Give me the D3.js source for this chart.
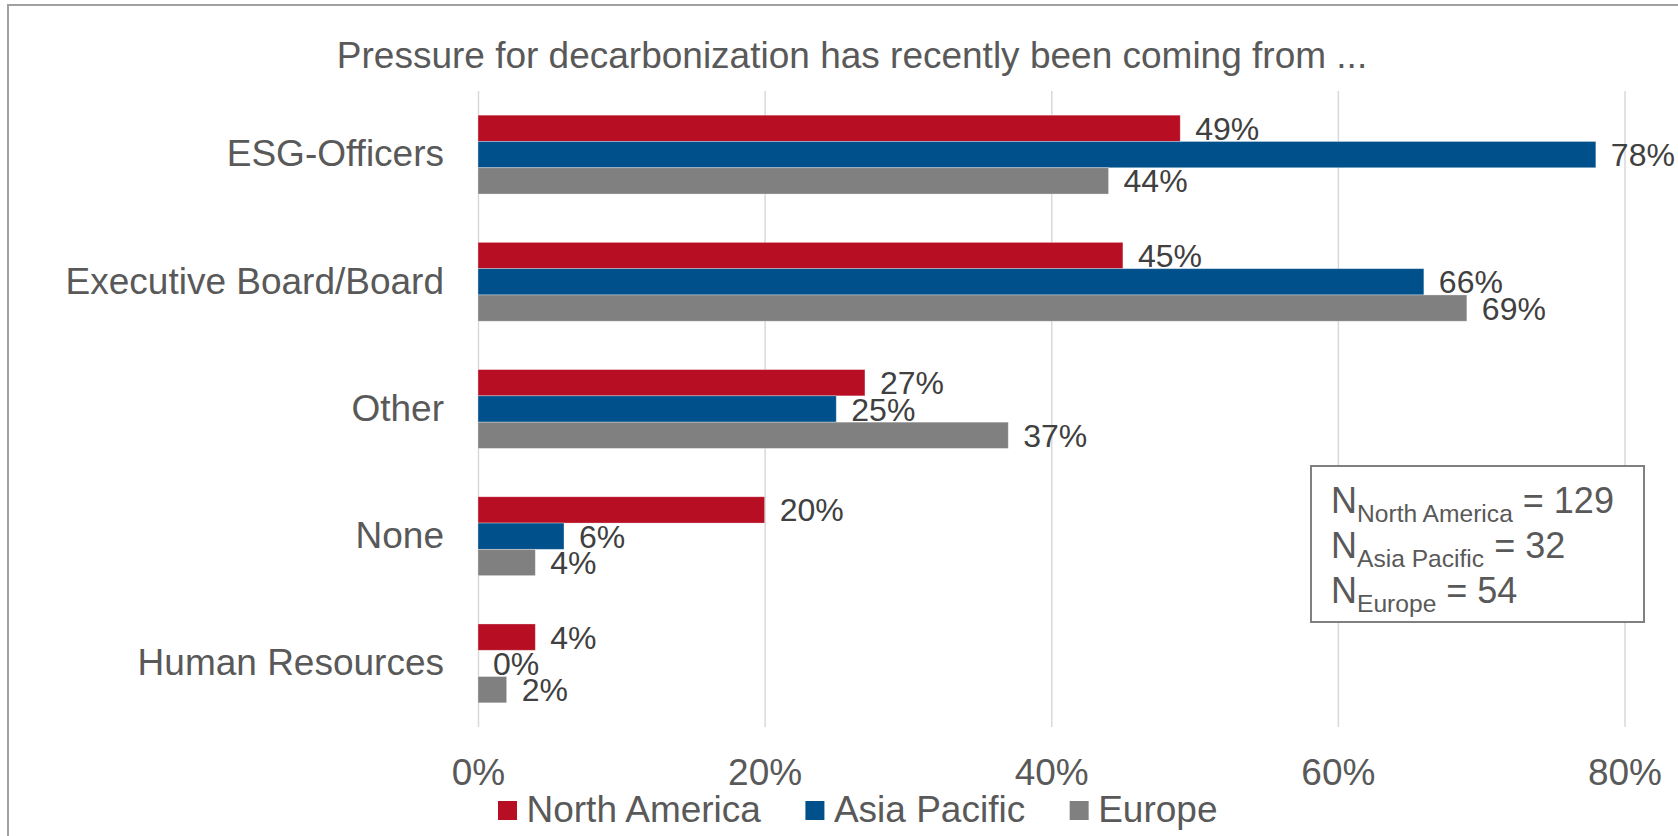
<!DOCTYPE html>
<html>
<head>
<meta charset="utf-8">
<script src="https://cdn.jsdelivr.net/npm/d3@7"></script>
<style>
  body { margin: 0; background: #fff; }
  svg { display: block; font-family: 'Liberation Sans', Arial, sans-serif; }
</style>
</head>
<body>
<div id="graf"></div>
<script>
// data
const categorias = ['ESG-Officers', 'Executive Board/Board', 'Other', 'None', 'Human Resources']
const regiones = ['North America', 'Asia Pacific', 'Europe']
const northAmerica = [0.49, 0.45, 0.27, 0.20, 0.04]
const asiaPacific = [0.78, 0.66, 0.25, 0.06, 0.00]
const europe = [0.44, 0.69, 0.37, 0.04, 0.02]
const ticksX = [0, 0.2, 0.4, 0.6, 0.8]
const muestras = [
  ['North America', '= 129'],
  ['Asia Pacific', '= 32'],
  ['Europe', '= 54'],
]
const titulo = 'Pressure for decarbonization has recently been coming from ...'

const colores = ['#B70E23', '#00508B', '#808080']
const series = [northAmerica, asiaPacific, europe]

const anchoTotal = 1678
const altoTotal = 836

const svg = d3.select('#graf')
  .append('svg')
  .attr('width', anchoTotal)
  .attr('height', altoTotal)

svg.append('rect')
  .attr('width', anchoTotal)
  .attr('height', altoTotal)
  .attr('fill', '#fff')

// outer frame (right and bottom edges run off the picture)
svg.append('rect')
  .attr('x', 8)
  .attr('y', 5)
  .attr('width', 1700)
  .attr('height', 900)
  .attr('fill', 'none')
  .attr('stroke', '#a0a0a0')
  .attr('stroke-width', 2)

const margin = { top: 91, bottom: 727, left: 478, right: 1624.5 }

const x = d3.scaleLinear()
  .domain([0, 0.8])
  .range([margin.left, margin.right])

const y = d3.scaleBand()
  .domain(categorias)
  .range([margin.top, margin.bottom])
  .paddingInner(0.38)
  .paddingOuter(0.19)

const ySub = d3.scaleBand()
  .domain(regiones)
  .range([0, y.bandwidth()])

const color = d3.scaleOrdinal()
  .domain(regiones)
  .range(colores)

// title
svg.append('text')
  .attr('x', 852)
  .attr('y', 68)
  .attr('text-anchor', 'middle')
  .attr('font-size', 37)
  .attr('fill', '#595959')
  .text(titulo)

// x axis + gridlines
const xAxisGroup = svg.append('g')
  .attr('transform', `translate(0, ${margin.bottom})`)
  .call(
    d3.axisBottom(x)
      .tickValues(ticksX)
      .tickSize(-(margin.bottom - margin.top))
      .tickPadding(32)
      .tickFormat(d3.format('.0%'))
  )
xAxisGroup.select('.domain').remove()
xAxisGroup.selectAll('line')
  .attr('stroke', '#d9d9d9')
  .attr('stroke-width', 1.5)
xAxisGroup.selectAll('text')
  .attr('font-size', 37)
  .attr('font-family', "'Liberation Sans', Arial, sans-serif")
  .attr('fill', '#595959')

// category axis
const yAxisGroup = svg.append('g')
  .attr('transform', `translate(${margin.left}, 0)`)
  .call(d3.axisLeft(y).tickSize(0).tickPadding(34))
yAxisGroup.select('.domain').remove()
yAxisGroup.selectAll('text')
  .attr('font-size', 37)
  .attr('font-family', "'Liberation Sans', Arial, sans-serif")
  .attr('fill', '#595959')

// bars
const filas = []
categorias.forEach((c, i) => {
  regiones.forEach((r, j) => {
    filas.push({ cat: c, reg: r, val: series[j][i] })
  })
})

const g = svg.append('g')

g.selectAll('rect.bar')
  .data(filas)
  .enter()
  .append('rect')
  .attr('class', 'bar')
  .attr('x', x(0))
  .attr('y', d => y(d.cat) + ySub(d.reg))
  .attr('width', d => x(d.val) - x(0))
  .attr('height', ySub.bandwidth())
  .attr('fill', d => color(d.reg))
  .attr('stroke', '#fff')
  .attr('stroke-opacity', 0.4)
  .attr('stroke-width', 0.8)

g.selectAll('text.label')
  .data(filas)
  .enter()
  .append('text')
  .attr('class', 'label')
  .attr('x', d => x(d.val) + 15)
  .attr('y', d => y(d.cat) + ySub(d.reg) + ySub.bandwidth() / 2 + 11.5)
  .attr('font-size', 32)
  .attr('fill', '#404040')
  .text(d => d3.format('.0%')(d.val))

// legend
const leyenda = svg.append('g')
let lx = 498
regiones.forEach((r, i) => {
  leyenda.append('rect')
    .attr('x', lx)
    .attr('y', 801)
    .attr('width', 19)
    .attr('height', 19)
    .attr('fill', colores[i])
  const t = leyenda.append('text')
    .attr('x', lx + 28.5)
    .attr('y', 822)
    .attr('font-size', 37)
    .attr('fill', '#595959')
    .text(r)
  lx = lx + 28.5 + t.node().getComputedTextLength() + 44.5
})

// sample size box
const caja = svg.append('g')
caja.append('rect')
  .attr('x', 1311)
  .attr('y', 466)
  .attr('width', 333)
  .attr('height', 156)
  .attr('fill', '#fff')
  .attr('stroke', '#808080')
  .attr('stroke-width', 2)

const baseN = [513, 558, 603]
muestras.forEach((m, i) => {
  const t = caja.append('text')
    .attr('x', 1331)
    .attr('y', baseN[i])
    .attr('font-size', 36)
    .attr('fill', '#595959')
  t.append('tspan').text('N')
  t.append('tspan')
    .attr('font-size', 24.6)
    .attr('dy', 8.5)
    .text(m[0])
  t.append('tspan')
    .attr('dy', -8.5)
    .text(' ' + m[1])
})
</script>
</body>
</html>
